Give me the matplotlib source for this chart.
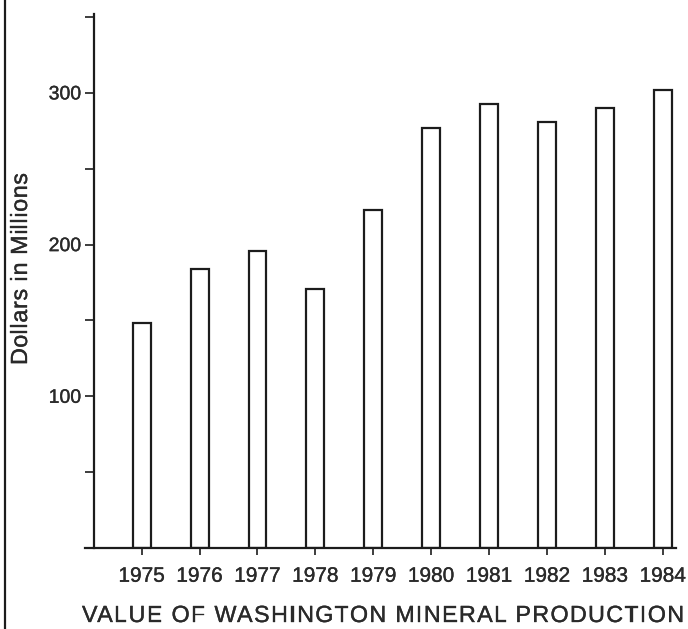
import matplotlib
matplotlib.use("Agg")
import matplotlib.pyplot as plt
from matplotlib.lines import Line2D
import matplotlib.patheffects as pe

years = ["1975", "1976", "1977", "1978", "1979", "1980", "1981", "1982", "1983", "1984"]
values = [148, 184, 196, 171, 223, 277, 293, 281, 290, 302]
ytick_vals = [50, 100, 150, 200, 250, 300, 350]
ytick_labels = ["", "100", "", "200", "", "300", ""]
ylabel = "Dollars in Millions"
title = "VALUE OF WASHINGTON MINERAL PRODUCTION"

plt.rcParams['font.family'] = ['Liberation Sans', 'DejaVu Sans']
ink = '#1c1c1c'
text_ink = '#2a2a2a'
heavy = [pe.withStroke(linewidth=0.25, foreground=text_ink)]

W, H = 688, 629
fig = plt.figure(figsize=(W / 100, H / 100), dpi=100)
fig.patch.set_facecolor('white')
renderer = fig.canvas.get_renderer()

left_px, right_px = 85, 676
base_px, top_px = 548, 14
ax = fig.add_axes([left_px / W, (H - base_px) / H, (right_px - left_px) / W, (base_px - top_px) / H])
ax.set_facecolor('none')

x = list(range(len(years)))
ax.bar(x, values, width=0.31, facecolor='white', edgecolor=ink, linewidth=1.6, zorder=2)

ax.set_xlim(-0.979, 9.228)
ax.set_ylim(0, 352)

for s in ['top', 'right']:
    ax.spines[s].set_visible(False)
ax.spines['left'].set_position(('data', -0.815))
for s in ['left', 'bottom']:
    ax.spines[s].set_color(ink)
    ax.spines[s].set_linewidth(1.6)

ax.set_xticks(x)
ax.set_xticklabels(years, fontsize=15, color=text_ink)
ax.set_yticks(ytick_vals)
ax.set_yticklabels(ytick_labels, fontsize=14, color=text_ink)
ax.tick_params(axis='x', direction='out', length=5, width=1.2, color=ink, pad=8.5)
ax.tick_params(axis='y', direction='out', length=6.5, width=1.2, color=ink, pad=3)
for lab in ax.get_xticklabels() + ax.get_yticklabels():
    lab.set_path_effects(heavy)


def text_width(s, size):
    t = fig.text(0, 0, s, fontsize=size)
    w = t.get_window_extent(renderer).width
    t.remove()
    return w


def spaced_text(s, size, start_px, length_px, base_px, vertical=False):
    natural = text_width(s, size)
    sp = (length_px - natural) / (len(s) - 1)
    for i, ch in enumerate(s):
        if ch == ' ':
            continue
        off = text_width(s[:i + 1], size) - text_width(ch, size) + i * sp
        if vertical:
            fig.text(base_px / W, 1 - (start_px - off) / H, ch, fontsize=size, color=text_ink,
                     rotation=90, rotation_mode='anchor', ha='left', va='baseline',
                     path_effects=heavy)
        else:
            fig.text((start_px + off) / W, 1 - base_px / H, ch, fontsize=size, color=text_ink,
                     ha='left', va='baseline', path_effects=heavy)


# y label: reads bottom (y=365 px) to top (y=173 px), baseline at x=27 px
spaced_text(ylabel, 16.8, 365, 192, 27, vertical=True)
# title: from x=82 to 684 px, baseline at y=622 px
spaced_text(title, 16.8, 82, 602, 622)

fig.add_artist(Line2D([5 / W, 5 / W], [0, 1], transform=fig.transFigure, color=ink, linewidth=1.6))

fig.savefig("out.png", dpi=100, facecolor='white')
